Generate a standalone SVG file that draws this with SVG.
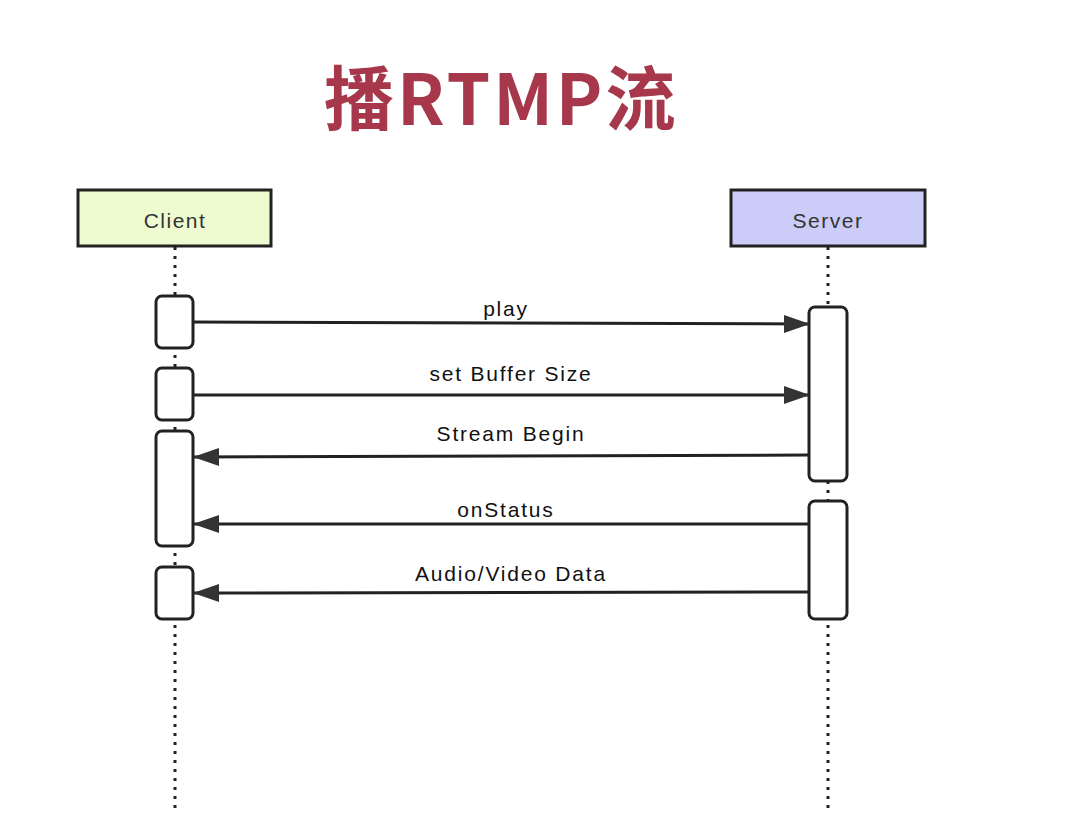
<svg xmlns="http://www.w3.org/2000/svg" width="1070" height="828" viewBox="0 0 1070 828">
<style>
.title{font-family:"Noto Sans CJK SC","Liberation Sans",sans-serif;font-weight:bold;font-size:70px;letter-spacing:3px;fill:#A7374B}
.actor{stroke:#222;stroke-width:3}
.atext{font-family:"Liberation Sans",Arial,sans-serif;font-size:21px;letter-spacing:1.5px;fill:#333;text-anchor:middle}
.life{stroke:#222;stroke-width:3;stroke-dasharray:3 6;fill:none}
.act{fill:#fff;stroke:#222;stroke-width:3}
.msg{stroke:#222;stroke-width:3;fill:none}
.lbl{font-family:"Liberation Sans",Arial,sans-serif;font-size:21px;letter-spacing:1.8px;fill:#111;text-anchor:middle}
</style>
<defs>
<marker id="ah" markerWidth="26" markerHeight="20" refX="26" refY="10" orient="auto" markerUnits="userSpaceOnUse">
<path d="M0,1 L26,10 L0,19 Z" fill="#333"/>
</marker>
</defs>
<rect width="1070" height="828" fill="#fff"/>
<text class="title" x="324" y="125">播RTMP流</text>
<g id="lifelines">
<line class="life" x1="175" y1="247" x2="175" y2="810"/>
<line class="life" x1="828" y1="247" x2="828" y2="810"/>
</g>
<g id="client">
<rect class="actor" x="78" y="190" width="193" height="56" fill="#EEFAD0"/>
<text class="atext" x="175" y="228">Client</text>
</g>
<g id="server">
<rect class="actor" x="731" y="190" width="194" height="56" fill="#CCCCF8"/>
<text class="atext" x="828" y="228">Server</text>
</g>
<g id="client-activations">
<rect class="act" x="156" y="296" width="37" height="52" rx="6"/>
<rect class="act" x="156" y="368" width="37" height="52" rx="6"/>
<rect class="act" x="156" y="431" width="37" height="115" rx="6"/>
<rect class="act" x="156" y="567" width="37" height="52" rx="6"/>
</g>
<g id="server-activations">
<rect class="act" x="809" y="307" width="38" height="174" rx="6"/>
<rect class="act" x="809" y="501" width="38" height="118" rx="6"/>
</g>
<g id="connectors">
<line class="msg" x1="193" y1="322" x2="810" y2="324" marker-end="url(#ah)"/>
<line class="msg" x1="193" y1="395" x2="810" y2="395" marker-end="url(#ah)"/>
<line class="msg" x1="809" y1="455" x2="193" y2="457" marker-end="url(#ah)"/>
<line class="msg" x1="809" y1="524" x2="193" y2="524" marker-end="url(#ah)"/>
<line class="msg" x1="809" y1="592" x2="193" y2="593" marker-end="url(#ah)"/>
</g>
<g id="labels">
<text class="lbl" x="506" y="316">play</text>
<text class="lbl" x="511" y="381">set Buffer Size</text>
<text class="lbl" x="511" y="441">Stream Begin</text>
<text class="lbl" x="506" y="517">onStatus</text>
<text class="lbl" x="511" y="581">Audio/Video Data</text>
</g>
</svg>
